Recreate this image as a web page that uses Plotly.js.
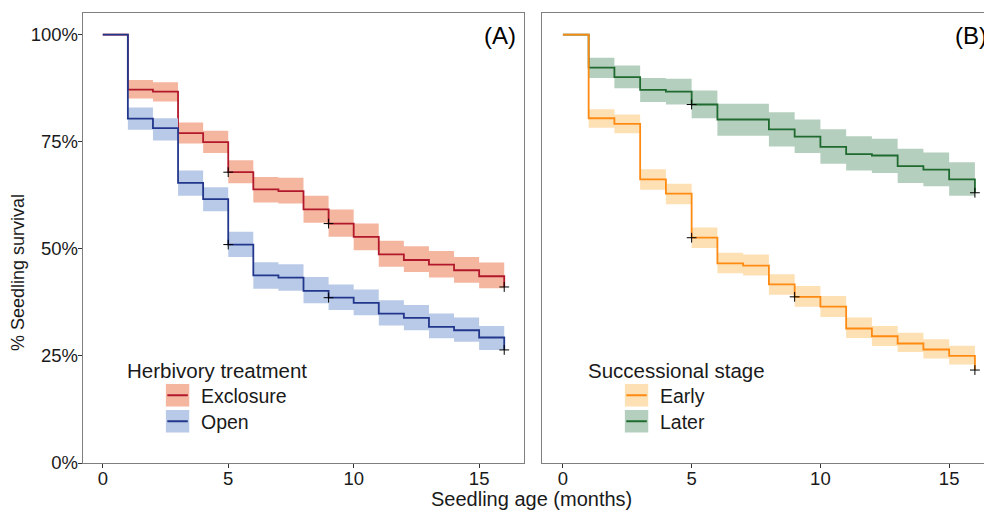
<!DOCTYPE html>
<html>
<head>
<meta charset="utf-8">
<script src="https://cdn.plot.ly/plotly-3.0.1.min.js"></script>
<style>
  html, body { margin: 0; padding: 0; overflow: hidden; background: #fff; }
  #chart { width: 1000px; height: 511px; }
</style>
</head>
<body>
<div id="chart"></div>
<script>
// ---- data (survival %, value holds from that month to the next) ----
const months = [0,1,2,3,4,5,6,7,8,9,10,11,12,13,14,15,16];
const bandMonths = [1,2,3,4,5,6,7,8,9,10,11,12,13,14,15];

const exclosureSurv  = [100, 87.2, 86.7, 77.0, 74.9, 67.9, 63.9, 63.5, 59.2, 55.9, 52.8, 48.7, 47.4, 46.3, 45.0, 43.6, 41.1];
const exclosureUpper = [89.4, 88.9, 79.5, 77.6, 70.7, 66.8, 66.6, 62.4, 59.2, 55.9, 51.9, 50.6, 49.5, 48.1, 46.8];
const exclosureLower = [85.1, 84.4, 74.6, 72.4, 65.3, 60.8, 60.6, 56.1, 52.8, 49.7, 45.8, 44.6, 43.3, 42.1, 40.8];

const openSurv  = [100, 80.4, 78.2, 65.4, 61.6, 51.0, 43.8, 43.3, 40.2, 38.6, 37.4, 34.9, 33.9, 31.8, 31.0, 29.3, 26.4];
const openUpper = [83.0, 80.5, 68.3, 64.4, 54.0, 46.9, 46.4, 43.4, 41.7, 40.5, 38.0, 36.9, 34.9, 34.0, 32.0];
const openLower = [77.8, 75.3, 62.4, 58.8, 48.1, 40.7, 40.2, 37.3, 35.7, 34.5, 32.1, 31.0, 29.1, 28.3, 26.4];

const earlySurv  = [100, 80.5, 79.2, 66.2, 62.9, 52.6, 46.6, 46.1, 41.7, 38.8, 36.5, 31.4, 29.6, 27.9, 26.5, 25.0, 21.7];
const earlyUpper = [82.6, 81.4, 68.6, 65.2, 55.0, 49.1, 48.7, 44.1, 41.3, 39.0, 34.0, 32.0, 30.4, 28.9, 27.4];
const earlyLower = [78.3, 77.0, 63.8, 60.4, 50.2, 44.3, 43.8, 39.3, 36.5, 34.1, 29.2, 27.3, 25.9, 24.4, 23.0];

const laterSurv  = [100, 92.3, 90.1, 87.1, 86.7, 83.7, 80.2, 80.2, 77.9, 76.2, 73.8, 72.1, 71.8, 69.3, 68.5, 66.2, 63.1];
const laterUpper = [94.6, 92.8, 89.9, 89.7, 87.0, 83.9, 83.9, 81.9, 80.2, 77.9, 76.3, 75.7, 73.4, 72.5, 70.2];
const laterLower = [89.9, 87.5, 84.3, 83.7, 80.5, 76.4, 76.4, 73.9, 72.4, 69.9, 68.3, 67.7, 65.4, 64.6, 62.4];

const censorExclosure = [5, 9, 16];
const censorOpen = [5, 9, 16];
const censorEarly = [5, 9, 16];
const censorLater = [5, 16];

const yTicks = [0, 25, 50, 75, 100];
const xTicks = [0, 5, 10, 15];

const herbivoryTitle = "Herbivory treatment";
const herbivoryLabels = ["Exclosure", "Open"];
const stageTitle = "Successional stage";
const stageLabels = ["Early", "Later"];

// ---- styles ----
const col = {
  excl: {line: "#b2182b", band: "#f5b6a0"},
  open: {line: "#22378c", band: "#b9cae8"},
  early: {line: "#ff8a12", band: "#fde0b4"},
  later: {line: "#1f6a2e", band: "#b5cfbf"}
};

function group(surv, upper, lower, censor, c, xa, ya) {
  const bx = bandMonths.concat([bandMonths[bandMonths.length - 1] + 1]);
  const bu = upper.concat([upper[upper.length - 1]]);
  const bl = lower.concat([lower[lower.length - 1]]);
  return [
    {x: bx, y: bu, xaxis: xa, yaxis: ya, mode: "lines", line: {shape: "hv", width: 0, color: c.band},
     hoverinfo: "skip", showlegend: false},
    {x: bx, y: bl, xaxis: xa, yaxis: ya, mode: "lines", line: {shape: "hv", width: 0, color: c.band},
     fill: "tonexty", fillcolor: c.band, hoverinfo: "skip", showlegend: false},
    {x: months, y: surv, xaxis: xa, yaxis: ya, mode: "lines", line: {shape: "hv", width: 1.8, color: c.line},
     showlegend: false},
    {x: censor, y: censor.map(m => surv[m]), xaxis: xa, yaxis: ya, mode: "markers",
     marker: {symbol: "cross-thin", size: 7, color: "#000", line: {width: 1, color: "#000"}}, showlegend: false}
  ];
}

const data = []
  .concat(group(exclosureSurv, exclosureUpper, exclosureLower, censorExclosure, col.excl, "x", "y"))
  .concat(group(openSurv, openUpper, openLower, censorOpen, col.open, "x", "y"))
  .concat(group(laterSurv, laterUpper, laterLower, censorLater, col.later, "x2", "y2"))
  .concat(group(earlySurv, earlyUpper, earlyLower, censorEarly, col.early, "x2", "y2"));

const W = 1000, H = 511;
const px = v => v / W;
const py = v => 1 - v / H;
const FONT = "Liberation Sans, Arial, Helvetica, sans-serif";
const axisLine = "#7f7f7f";

const xBase = {
  range: [-0.8, 16.8], tickvals: xTicks, ticktext: xTicks.map(String),
  showgrid: false, zeroline: false, showline: true, mirror: true, linecolor: axisLine, linewidth: 1,
  ticks: "outside", ticklen: 4, tickcolor: "#333", tickwidth: 1, ticklabelstandoff: -5,
  tickfont: {family: FONT, size: 18.5, color: "#1a1a1a"}
};
const yBase = {
  range: [0, 105], tickvals: yTicks, ticktext: yTicks.map(v => v + "%"),
  showgrid: false, zeroline: false, showline: true, mirror: true, linecolor: axisLine, linewidth: 1,
  ticks: "outside", ticklen: 4, tickcolor: "#333", tickwidth: 1, ticklabelstandoff: -4,
  tickfont: {family: FONT, size: 18.5, color: "#1a1a1a"},
  domain: [py(463), py(13.3)]
};

const layout = {
  width: W, height: H,
  margin: {l: 0, r: 0, t: 0, b: 0},
  paper_bgcolor: "#fff", plot_bgcolor: "#fff",
  showlegend: false,
  xaxis: Object.assign({}, xBase, {domain: [px(82.7), px(524.3)], anchor: "y"}),
  yaxis: Object.assign({}, yBase, {anchor: "x"}),
  xaxis2: Object.assign({}, xBase, {domain: [px(542.3), px(995.5)], anchor: "y2"}),
  yaxis2: Object.assign({}, yBase, {anchor: "x2", showticklabels: false, ticks: ""}),
  shapes: [],
  annotations: [
    {text: "(A)", xref: "x domain", yref: "paper", x: 0.985, y: py(35.5), xanchor: "right", yanchor: "middle",
     showarrow: false, font: {family: FONT, size: 24, color: "#000"}},
    {text: "(B)", xref: "x2 domain", yref: "paper", x: 0.985, y: py(35.5), xanchor: "right", yanchor: "middle",
     showarrow: false, font: {family: FONT, size: 24, color: "#000"}},
    {text: "% Seedling survival", xref: "paper", yref: "paper", x: px(18), y: py(273), textangle: -90,
     xanchor: "center", yanchor: "middle", showarrow: false, font: {family: FONT, size: 18, color: "#1a1a1a"}},
    {text: "Seedling age (months)", xref: "paper", yref: "paper", x: px(531.7), y: py(498.5),
     xanchor: "center", yanchor: "middle", showarrow: false, font: {family: FONT, size: 20, color: "#1a1a1a"}}
  ]
};

function legendBlock(title, labels, colors, titleX, keyX) {
  const titleY = 370, keyTops = [383.5, 409.5], keyH = 23.5, keyW = 24.5;
  layout.annotations.push({text: title, xref: "paper", yref: "paper", x: px(titleX), y: py(titleY),
    xanchor: "left", yanchor: "middle", showarrow: false, font: {family: FONT, size: 20.5, color: "#1a1a1a"}});
  labels.forEach((lab, i) => {
    const t = keyTops[i];
    layout.shapes.push({type: "rect", xref: "paper", yref: "paper", x0: px(keyX), x1: px(keyX + keyW),
      y0: py(t), y1: py(t + keyH), fillcolor: colors[i].band, line: {width: 1, color: "#fff"}});
    layout.shapes.push({type: "line", xref: "paper", yref: "paper", x0: px(keyX + 2), x1: px(keyX + keyW - 2),
      y0: py(t + keyH / 2), y1: py(t + keyH / 2), line: {width: 2, color: colors[i].line}});
    layout.annotations.push({text: lab, xref: "paper", yref: "paper", x: px(keyX + keyW + 9.5), y: py(t + keyH / 2 + 0.5),
      xanchor: "left", yanchor: "middle", showarrow: false, font: {family: FONT, size: 19.5, color: "#1a1a1a"}});
  });
}
legendBlock(herbivoryTitle, herbivoryLabels, [col.excl, col.open], 124.5, 165.3);
legendBlock(stageTitle, stageLabels, [col.early, col.later], 585.5, 624.3);

Plotly.newPlot("chart", data, layout, {displayModeBar: false, staticPlot: true});
</script>
</body>
</html>
